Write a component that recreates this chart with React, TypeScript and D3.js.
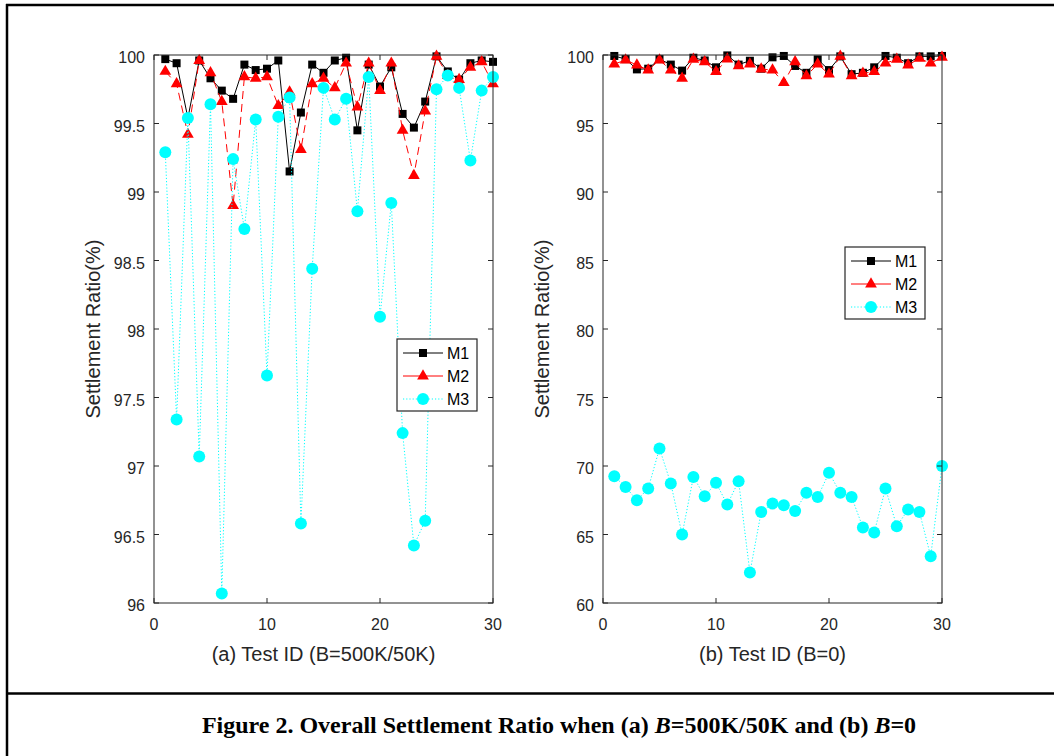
import React from "react";
import * as d3 from "d3";

// test ids on the x axis
const testIds = [1, 2, 3, 4, 5, 6, 7, 8, 9, 10, 11, 12, 13, 14, 15, 16, 17, 18, 19, 20, 21, 22, 23, 24, 25, 26, 27, 28, 29, 30];

// (a) B=500K/50K
const m1A = [99.97, 99.94, 99.54, 99.96, 99.83, 99.74, 99.68, 99.93, 99.89, 99.9, 99.96, 99.15, 99.58, 99.93, 99.87, 99.96, 99.98, 99.45, 99.93, 99.77, 99.91, 99.57, 99.47, 99.66, 99.99, 99.88, 99.82, 99.94, 99.96, 99.95];
const m2A = [99.88, 99.79, 99.42, 99.96, 99.87, 99.66, 98.9, 99.84, 99.83, 99.84, 99.63, 99.73, 99.31, 99.79, 99.83, 99.76, 99.94, 99.62, 99.94, 99.74, 99.94, 99.45, 99.12, 99.59, 99.99, 99.85, 99.82, 99.91, 99.95, 99.79];
const m3A = [99.29, 97.34, 99.54, 97.07, 99.64, 96.07, 99.24, 98.73, 99.53, 97.66, 99.55, 99.69, 96.58, 98.44, 99.76, 99.53, 99.68, 98.86, 99.84, 98.09, 98.92, 97.24, 96.42, 96.6, 99.75, 99.85, 99.76, 99.23, 99.74, 99.84];

// (b) B=0
const m1B = [99.93, 99.7, 98.95, 99.0, 99.7, 99.3, 98.86, 99.8, 99.6, 99.1, 99.97, 99.3, 99.58, 99.0, 99.83, 99.93, 99.2, 98.7, 99.68, 98.9, 99.9, 98.6, 98.7, 99.1, 99.93, 99.8, 99.4, 99.9, 99.9, 99.93];
const m2B = [99.34, 99.63, 99.27, 98.9, 99.63, 98.9, 98.3, 99.68, 99.5, 98.78, 99.7, 99.2, 99.34, 98.97, 98.9, 97.98, 99.5, 98.47, 99.34, 98.6, 99.9, 98.47, 98.66, 98.78, 99.4, 99.68, 99.27, 99.75, 99.4, 99.83];
const m3B = [69.25, 68.47, 67.5, 68.36, 71.28, 68.72, 65.0, 69.2, 67.79, 68.77, 67.19, 68.89, 62.22, 66.65, 67.26, 67.14, 66.72, 68.04, 67.74, 69.5, 68.04, 67.74, 65.51, 65.14, 68.36, 65.6, 66.82, 66.65, 63.41, 70.0];

const yTicksA = [96, 96.5, 97, 97.5, 98, 98.5, 99, 99.5, 100];
const yTicksB = [60, 65, 70, 75, 80, 85, 90, 95, 100];
const xTicks = [0, 10, 20, 30];
const seriesNames = ["M1", "M2", "M3"];

const axisColor = "#262626";
const font = "'Liberation Sans', Arial, sans-serif";

const styles = [
  { color: "#000000", dash: undefined, marker: "square" },
  { color: "#ff0000", dash: "8,5", marker: "triangle" },
  { color: "#00ffff", dash: "1.2,2", marker: "circle" },
];

const triPath = d3.symbol(d3.symbolTriangle, 60)() as string;

const Marker = ({ kind, cx, cy, color }) => {
  if (kind === "square") {
    return <rect x={cx - 4} y={cy - 4} width={8} height={8} fill={color} />;
  }
  if (kind === "triangle") {
    return <path d={triPath} transform={`translate(${cx},${cy})`} fill={color} />;
  }
  return <circle cx={cx} cy={cy} r={6} fill={color} />;
};

const Panel = ({ left, right, top, bottom, yDomain, yTicks, xLabel, series, legendX, legendY }) => {
  const x = d3.scaleLinear().domain([0, 30]).range([left, right]);
  const y = d3.scaleLinear().domain(yDomain).range([bottom, top]);
  const line = d3
    .line<number>()
    .x((d, i) => x(testIds[i]))
    .y((d) => y(d));
  const tk = 5;

  return (
    <g>
      {/* series */}
      {series.map((vals, s) => (
        <g key={s}>
          <path d={line(vals) as string} fill="none" stroke={styles[s].color} strokeWidth={1} strokeDasharray={styles[s].dash} />
          {vals.map((v, i) => (
            <Marker key={i} kind={styles[s].marker} cx={x(testIds[i])} cy={y(v)} color={styles[s].color} />
          ))}
        </g>
      ))}

      {/* box */}
      <rect x={left} y={top} width={right - left} height={bottom - top} fill="none" stroke={axisColor} strokeWidth={1} />

      {/* x ticks */}
      {xTicks.map((t) => (
        <g key={"x" + t}>
          <line x1={x(t)} x2={x(t)} y1={bottom} y2={bottom - tk} stroke={axisColor} />
          <line x1={x(t)} x2={x(t)} y1={top} y2={top + tk} stroke={axisColor} />
          <text x={x(t)} y={bottom + 27} textAnchor="middle" fontSize={16} fill={axisColor} fontFamily={font}>
            {t}
          </text>
        </g>
      ))}

      {/* y ticks */}
      {yTicks.map((t) => (
        <g key={"y" + t}>
          <line x1={left} x2={left + tk} y1={y(t)} y2={y(t)} stroke={axisColor} />
          <line x1={right} x2={right - tk} y1={y(t)} y2={y(t)} stroke={axisColor} />
          <text x={left - 9} y={y(t) + 8} textAnchor="end" fontSize={16} fill={axisColor} fontFamily={font}>
            {String(t)}
          </text>
        </g>
      ))}

      {/* labels */}
      <text x={(left + right) / 2} y={661} textAnchor="middle" fontSize={20} fill={axisColor} fontFamily={font}>
        {xLabel}
      </text>
      <text
        transform={`translate(${left - 54},${(top + bottom) / 2}) rotate(-90)`}
        textAnchor="middle"
        fontSize={20}
        fill={axisColor}
        fontFamily={font}
      >
        Settlement Ratio(%)
      </text>

      {/* legend */}
      <g transform={`translate(${legendX},${legendY})`}>
        <rect x={0} y={0} width={80} height={72} fill="#ffffff" stroke={axisColor} strokeWidth={1.2} />
        {seriesNames.map((name, s) => {
          const ry = 14 + s * 23;
          return (
            <g key={name}>
              <line x1={6} x2={46} y1={ry} y2={ry} stroke={styles[s].color} strokeDasharray={s === 2 ? styles[s].dash : undefined} />
              <Marker kind={styles[s].marker} cx={26} cy={ry} color={styles[s].color} />
              <text x={50} y={ry + 6} fontSize={16} fill="#000" fontFamily={font}>
                {name}
              </text>
            </g>
          );
        })}
      </g>
    </g>
  );
};

export default function App() {
  return (
    <svg width={1054} height={756} style={{ position: "absolute", left: 0, top: 0, background: "#fff" }}>
      <rect x={0} y={0} width={1054} height={756} fill="#fff" />
      <Panel
        left={154}
        right={493}
        top={55}
        bottom={603}
        yDomain={[96, 100]}
        yTicks={yTicksA}
        xLabel="(a) Test ID (B=500K/50K)"
        series={[m1A, m2A, m3A]}
        legendX={397}
        legendY={339}
      />
      <Panel
        left={603}
        right={942}
        top={55}
        bottom={603}
        yDomain={[60, 100]}
        yTicks={yTicksB}
        xLabel="(b) Test ID (B=0)"
        series={[m1B, m2B, m3B]}
        legendX={845}
        legendY={247}
      />

      {/* frame */}
      <line x1={6} x2={1054} y1={5} y2={5} stroke="#000" strokeWidth={2.5} />
      <line x1={7} x2={7} y1={4} y2={756} stroke="#000" strokeWidth={2.5} />
      <line x1={6} x2={1054} y1={693.5} y2={693.5} stroke="#000" strokeWidth={2.5} />

      <text x={559} y={733} textAnchor="middle" fontSize={24} fontWeight="bold" fontFamily="'Liberation Serif', 'Times New Roman', serif" fill="#000">
        Figure 2. Overall Settlement Ratio when (a) <tspan fontStyle="italic">B</tspan>=500K/50K and (b) <tspan fontStyle="italic">B</tspan>=0
      </text>
    </svg>
  );
}
